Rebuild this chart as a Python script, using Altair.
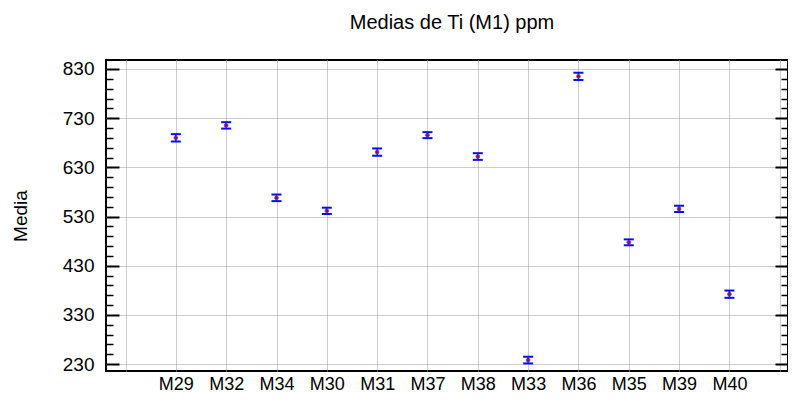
import json
import altair as alt
import pandas as pd

categories = ["M29", "M32", "M34", "M30", "M31", "M37", "M38", "M33", "M36", "M35", "M39", "M40"]
means = [690, 715.3, 568, 541.5, 661, 695.5, 652, 238, 815, 477.5, 545.5, 372]
half_widths = [7.5, 6.5, 6.7, 6.4, 7.4, 6.1, 6.8, 6.8, 7.4, 6.0, 6.4, 7.4]

major_ticks = [230, 330, 430, 530, 630, 730, 830]
minor_ticks = [v for v in range(210, 850, 20) if (v - 230) % 100 != 0]
x_grid = list(range(-1, 13))

df = pd.DataFrame({
    "name": categories,
    "idx": list(range(len(categories))),
    "mean": means,
    "lo": [m - h for m, h in zip(means, half_widths)],
    "hi": [m + h for m, h in zip(means, half_widths)],
})

FONT = "Liberation Sans"
xscale = alt.Scale(domain=[-1.388, 12.164], nice=False, zero=False)
yscale = alt.Scale(domain=[215.8, 848.3], nice=False, zero=False)

label_expr = json.dumps(categories) + "[datum.value] || ''"
GRID = "#9a9a9a"

x_axis = alt.Axis(orient="bottom", values=x_grid, labelExpr=label_expr, ticks=False, domain=False,
                  grid=True, gridDash=[1, 1], gridColor=GRID, gridWidth=1,
                  labelFont=FONT, labelFontSize=18, labelColor="black",
                  labelPadding=4, labelOverlap=False, labelFlush=False, title=None)

y_left_major = alt.Axis(orient="left", values=major_ticks, offset=-13, tickSize=13,
                        tickWidth=2, tickColor="black", domain=False,
                        grid=True, gridDash=[1, 1], gridColor=GRID, gridWidth=1,
                        labelFont=FONT, labelFontSize=19, labelColor="black",
                        labelPadding=12, labelFlush=False, labelOverlap=False,
                        title="Media", titleFont=FONT, titleFontSize=19,
                        titleFontWeight="normal", titleColor="black", titlePadding=32)
y_left_minor = alt.Axis(orient="left", values=minor_ticks, offset=-7, tickSize=7,
                        tickWidth=1.5, tickColor="black", domain=False, grid=False,
                        labels=False, title=None)
y_right_major = alt.Axis(orient="right", values=major_ticks, offset=-13, tickSize=13,
                         tickWidth=2, tickColor="black", domain=False, grid=False,
                         labels=False, title=None)
y_right_minor = alt.Axis(orient="right", values=minor_ticks, offset=-7, tickSize=7,
                         tickWidth=1.5, tickColor="black", domain=False, grid=False,
                         labels=False, title=None)

base = alt.Chart(df)
BLUE = "#0a0aff"

bars = base.mark_rule(color=BLUE, strokeWidth=1.5, opacity=1).encode(
    x=alt.X("idx:Q", scale=xscale, axis=x_axis),
    y=alt.Y("lo:Q", scale=yscale, axis=y_left_major),
    y2="hi:Q",
)
caps_lo = base.mark_tick(color=BLUE, orient="horizontal", size=10, thickness=2, opacity=1).encode(
    x=alt.X("idx:Q", scale=xscale, axis=x_axis),
    y=alt.Y("lo:Q", scale=yscale, axis=y_left_minor),
)
caps_hi = base.mark_tick(color=BLUE, orient="horizontal", size=10, thickness=2, opacity=1).encode(
    x=alt.X("idx:Q", scale=xscale, axis=x_axis),
    y=alt.Y("hi:Q", scale=yscale, axis=y_right_major),
)
points = base.mark_point(shape="circle", filled=True, size=14, color="#b0003a",
                         stroke="#4040ff", strokeWidth=0.8, opacity=1).encode(
    x=alt.X("idx:Q", scale=xscale, axis=x_axis),
    y=alt.Y("mean:Q", scale=yscale, axis=y_right_minor),
)

chart = alt.layer(bars, caps_lo, caps_hi, points).resolve_axis(y="independent").properties(
    width=682,
    height=311,
    autosize=alt.AutoSizeParams(type="none"),
    padding={"left": 98, "top": 52, "right": 0, "bottom": 21},
    title=alt.TitleParams("Medias de Ti (M1) ppm", font=FONT, fontSize=20,
                          fontWeight="normal", color="black", anchor="middle",
                          frame="group", baseline="alphabetic", offset=11, dx=5),
).configure_view(stroke="black", strokeWidth=2)

chart.save("out.html", embed_options={"renderer": "svg", "actions": False})
